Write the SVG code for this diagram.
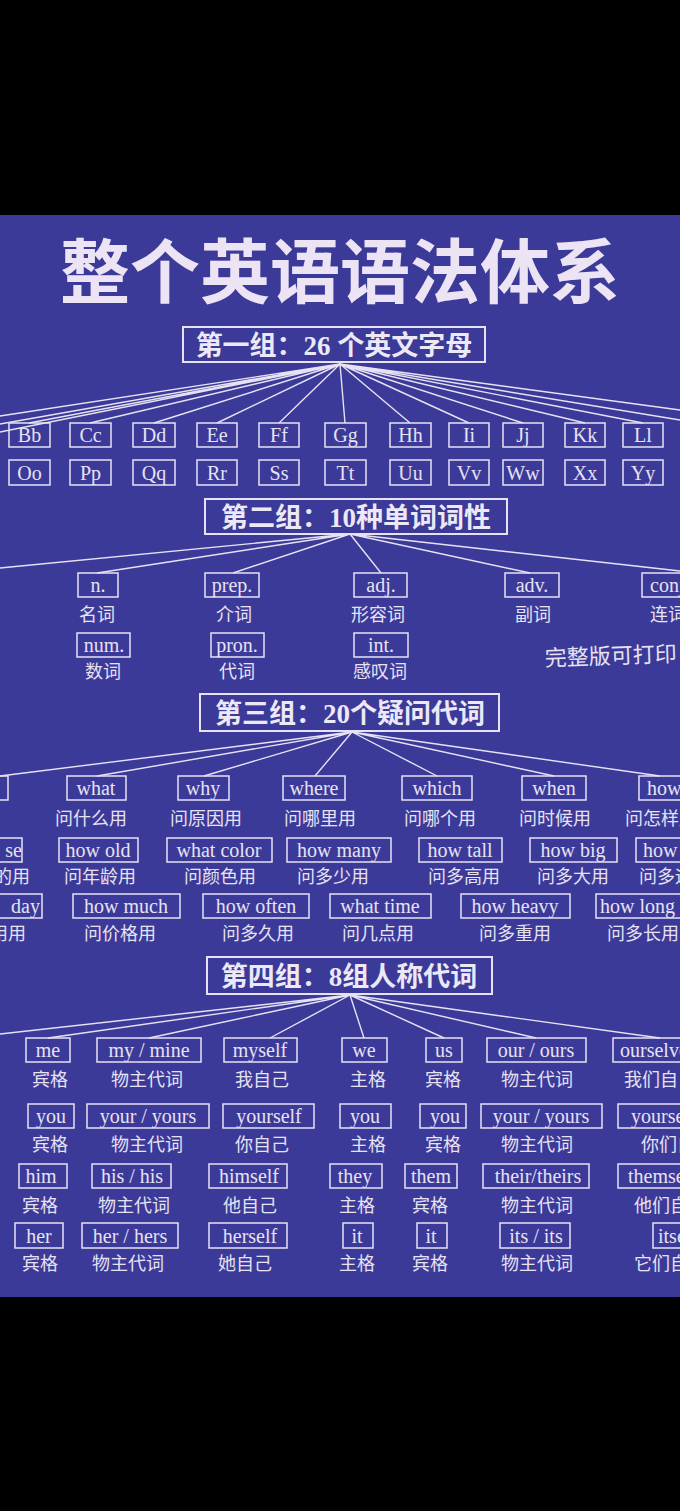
<svg xmlns="http://www.w3.org/2000/svg" width="680" height="1511" viewBox="0 0 680 1511">
<style>
.bx{fill:none;stroke:#e6e2f4;stroke-width:1.5}
.hb{fill:none;stroke:#e6e2f4;stroke-width:2}
.en{font-family:"Liberation Serif",serif;font-size:20px;fill:#e6e2f4;text-anchor:middle}
.zh{font-family:"Noto Sans CJK SC",sans-serif;font-size:18px;fill:#e6e2f4;text-anchor:middle}
.hd{font-family:"Liberation Serif","Noto Sans CJK SC",serif;font-size:27px;font-weight:bold;fill:#ece8f6;text-anchor:middle}
.ln{stroke:#e6e2f4;stroke-width:1.4;fill:none}
</style>
<rect width="680" height="1511" fill="#000"/>
<rect x="0" y="215" width="680" height="1082" fill="#3c3a98"/>
<text x="340" y="298" font-family="Noto Sans CJK SC,sans-serif" font-size="70" font-weight="bold" fill="#ece4f4" text-anchor="middle">整个英语语法体系</text>

<g id="connectors">
<path class="ln" d="M340 364L0 416M340 364L0 424M340 364L0 432M340 364L29 423M340 364L90 423M340 364L154 423M340 364L217 423M340 364L279 423M340 364L345 423M340 364L410 423M340 364L469 423M340 364L523 423M340 364L585 423M340 364L643 423M340 364L680 420M340 364L680 410"/>
<path class="ln" d="M350 534L0 568M350 534L97 573M350 534L233 573M350 534L381 573M350 534L530 573M350 534L680 571"/>
<path class="ln" d="M352 732L0 776M352 732L97 776M352 732L204 776M352 732L315 776M352 732L437 776M352 732L554 776M352 732L660 776"/>
<path class="ln" d="M350 995L0 1034M350 995L48 1038M350 995L149 1038M350 995L270 1038M350 995L364 1038M350 995L444 1038M350 995L536 1038M350 995L660 1038"/>
</g>

<g id="g1">
<rect class="hb" x="183" y="327" width="302" height="35"/>
<text class="hd" x="334" y="355">第一组：26 个英文字母</text>
<g id="letters">
<rect class="bx" x="9" y="423" width="41" height="24"/><text class="en" x="29.5" y="442">Bb</text>
<rect class="bx" x="70" y="423" width="41" height="24"/><text class="en" x="90.5" y="442">Cc</text>
<rect class="bx" x="133" y="423" width="42" height="24"/><text class="en" x="154" y="442">Dd</text>
<rect class="bx" x="197" y="423" width="40" height="24"/><text class="en" x="217" y="442">Ee</text>
<rect class="bx" x="259" y="423" width="40" height="24"/><text class="en" x="279" y="442">Ff</text>
<rect class="bx" x="325" y="423" width="41" height="24"/><text class="en" x="345.5" y="442">Gg</text>
<rect class="bx" x="390" y="423" width="41" height="24"/><text class="en" x="410.5" y="442">Hh</text>
<rect class="bx" x="449" y="423" width="40" height="24"/><text class="en" x="469" y="442">Ii</text>
<rect class="bx" x="503" y="423" width="40" height="24"/><text class="en" x="523" y="442">Jj</text>
<rect class="bx" x="565" y="423" width="40" height="24"/><text class="en" x="585" y="442">Kk</text>
<rect class="bx" x="623" y="423" width="40" height="24"/><text class="en" x="643" y="442">Ll</text>
<rect class="bx" x="9" y="460" width="41" height="25"/><text class="en" x="29.5" y="480">Oo</text>
<rect class="bx" x="70" y="460" width="41" height="25"/><text class="en" x="90.5" y="480">Pp</text>
<rect class="bx" x="133" y="460" width="42" height="25"/><text class="en" x="154" y="480">Qq</text>
<rect class="bx" x="197" y="460" width="40" height="25"/><text class="en" x="217" y="480">Rr</text>
<rect class="bx" x="259" y="460" width="40" height="25"/><text class="en" x="279" y="480">Ss</text>
<rect class="bx" x="325" y="460" width="41" height="25"/><text class="en" x="345.5" y="480">Tt</text>
<rect class="bx" x="390" y="460" width="41" height="25"/><text class="en" x="410.5" y="480">Uu</text>
<rect class="bx" x="449" y="460" width="40" height="25"/><text class="en" x="469" y="480">Vv</text>
<rect class="bx" x="503" y="460" width="40" height="25"/><text class="en" x="523" y="480">Ww</text>
<rect class="bx" x="565" y="460" width="40" height="25"/><text class="en" x="585" y="480">Xx</text>
<rect class="bx" x="623" y="460" width="40" height="25"/><text class="en" x="643" y="480">Yy</text>
</g>
</g>

<g id="g2">
<rect class="hb" x="205" y="499" width="302" height="35"/>
<text class="hd" x="356" y="527">第二组：10种单词词性</text>
<rect class="bx" x="78" y="573" width="40" height="24"/><text class="en" x="98" y="592">n.</text>
<rect class="bx" x="205" y="573" width="54" height="24"/><text class="en" x="232" y="592">prep.</text>
<rect class="bx" x="354" y="573" width="53" height="24"/><text class="en" x="381" y="592">adj.</text>
<rect class="bx" x="505" y="573" width="54" height="24"/><text class="en" x="532" y="592">adv.</text>
<rect class="bx" x="642" y="573" width="50" height="24"/><text class="en" x="650" y="592" style="text-anchor:start">conj.</text>
<text class="zh" x="97" y="621">名词</text>
<text class="zh" x="234" y="621">介词</text>
<text class="zh" x="378" y="621">形容词</text>
<text class="zh" x="533" y="621">副词</text>
<text class="zh" x="650" y="621" style="text-anchor:start">连词</text>
<rect class="bx" x="77" y="633" width="53" height="24"/><text class="en" x="104" y="652">num.</text>
<rect class="bx" x="211" y="633" width="53" height="24"/><text class="en" x="237" y="652">pron.</text>
<rect class="bx" x="354" y="633" width="54" height="24"/><text class="en" x="381" y="652">int.</text>
<text class="zh" x="103" y="678">数词</text>
<text class="zh" x="237" y="678">代词</text>
<text class="zh" x="380" y="678">感叹词</text>
<text x="545" y="666" font-family="Noto Sans CJK SC,sans-serif" font-size="22" fill="#e6e2f4" transform="rotate(-2 545 666)">完整版可打印</text>
</g>

<g id="g3">
<rect class="hb" x="200" y="694" width="299" height="37"/>
<text class="hd" x="350" y="723">第三组：20个疑问代词</text>
<rect class="bx" x="-20" y="776" width="28" height="24"/>
<rect class="bx" x="67" y="776" width="59" height="24"/><text class="en" x="96" y="795">what</text>
<rect class="bx" x="178" y="776" width="51" height="24"/><text class="en" x="203" y="795">why</text>
<rect class="bx" x="283" y="776" width="62" height="24"/><text class="en" x="314" y="795">where</text>
<rect class="bx" x="402" y="776" width="70" height="24"/><text class="en" x="437" y="795">which</text>
<rect class="bx" x="522" y="776" width="64" height="24"/><text class="en" x="554" y="795">when</text>
<rect class="bx" x="639" y="776" width="60" height="24"/><text class="en" x="647" y="795" style="text-anchor:start">how</text>
<text class="zh" x="-9" y="825">用</text>
<text class="zh" x="91" y="825">问什么用</text>
<text class="zh" x="206" y="825">问原因用</text>
<text class="zh" x="320" y="825">问哪里用</text>
<text class="zh" x="440" y="825">问哪个用</text>
<text class="zh" x="555" y="825">问时候用</text>
<text class="zh" x="625" y="825" style="text-anchor:start">问怎样用</text>
<rect class="bx" x="-20" y="838" width="42" height="24"/><text class="en" x="22" y="857" style="text-anchor:end">se</text>
<rect class="bx" x="59" y="838" width="79" height="24"/><text class="en" x="98" y="857">how old</text>
<rect class="bx" x="167" y="838" width="105" height="24"/><text class="en" x="219" y="857">what color</text>
<rect class="bx" x="287" y="838" width="104" height="24"/><text class="en" x="339" y="857">how many</text>
<rect class="bx" x="419" y="838" width="83" height="24"/><text class="en" x="460" y="857">how tall</text>
<rect class="bx" x="530" y="838" width="87" height="24"/><text class="en" x="573" y="857">how big</text>
<rect class="bx" x="636" y="838" width="80" height="24"/><text class="en" x="643" y="857" style="text-anchor:start">how far</text>
<text class="zh" x="30" y="883" style="text-anchor:end">的用</text>
<text class="zh" x="100" y="883">问年龄用</text>
<text class="zh" x="220" y="883">问颜色用</text>
<text class="zh" x="333" y="883">问多少用</text>
<text class="zh" x="464" y="883">问多高用</text>
<text class="zh" x="573" y="883">问多大用</text>
<text class="zh" x="639" y="883" style="text-anchor:start">问多远用</text>
<rect class="bx" x="-20" y="894" width="62" height="24"/><text class="en" x="40" y="913" style="text-anchor:end">day</text>
<rect class="bx" x="73" y="894" width="107" height="24"/><text class="en" x="126" y="913">how much</text>
<rect class="bx" x="203" y="894" width="106" height="24"/><text class="en" x="256" y="913">how often</text>
<rect class="bx" x="330" y="894" width="101" height="24"/><text class="en" x="380" y="913">what time</text>
<rect class="bx" x="461" y="894" width="109" height="24"/><text class="en" x="515" y="913">how heavy</text>
<rect class="bx" x="596" y="894" width="100" height="24"/><text class="en" x="600" y="913" style="text-anchor:start">how long</text>
<text class="zh" x="26" y="940" style="text-anchor:end">用用</text>
<text class="zh" x="120" y="940">问价格用</text>
<text class="zh" x="258" y="940">问多久用</text>
<text class="zh" x="378" y="940">问几点用</text>
<text class="zh" x="515" y="940">问多重用</text>
<text class="zh" x="607" y="940" style="text-anchor:start">问多长用</text>
</g>

<g id="g4">
<rect class="hb" x="207" y="957" width="285" height="37"/>
<text class="hd" x="349" y="986">第四组：8组人称代词</text>
<rect class="bx" x="26" y="1038" width="44" height="24"/><text class="en" x="48" y="1057">me</text>
<rect class="bx" x="97" y="1038" width="104" height="24"/><text class="en" x="149" y="1057">my / mine</text>
<rect class="bx" x="224" y="1038" width="73" height="24"/><text class="en" x="260" y="1057">myself</text>
<rect class="bx" x="342" y="1038" width="45" height="24"/><text class="en" x="364" y="1057">we</text>
<rect class="bx" x="426" y="1038" width="36" height="24"/><text class="en" x="444" y="1057">us</text>
<rect class="bx" x="487" y="1038" width="99" height="24"/><text class="en" x="536" y="1057">our / ours</text>
<rect class="bx" x="613" y="1038" width="100" height="24"/><text class="en" x="620" y="1057" style="text-anchor:start">ourselves</text>
<text class="zh" x="50" y="1086">宾格</text><text class="zh" x="147" y="1086">物主代词</text><text class="zh" x="262" y="1086">我自己</text><text class="zh" x="368" y="1086">主格</text><text class="zh" x="443" y="1086">宾格</text><text class="zh" x="537" y="1086">物主代词</text><text class="zh" x="624" y="1086" style="text-anchor:start">我们自己</text>
<rect class="bx" x="28" y="1104" width="46" height="24"/><text class="en" x="51" y="1123">you</text>
<rect class="bx" x="87" y="1104" width="122" height="24"/><text class="en" x="148" y="1123">your / yours</text>
<rect class="bx" x="223" y="1104" width="91" height="24"/><text class="en" x="269" y="1123">yourself</text>
<rect class="bx" x="340" y="1104" width="51" height="24"/><text class="en" x="365" y="1123">you</text>
<rect class="bx" x="420" y="1104" width="46" height="24"/><text class="en" x="445" y="1123">you</text>
<rect class="bx" x="481" y="1104" width="121" height="24"/><text class="en" x="541" y="1123">your / yours</text>
<rect class="bx" x="618" y="1104" width="100" height="24"/><text class="en" x="631" y="1123" style="text-anchor:start">yourselves</text>
<text class="zh" x="50" y="1151">宾格</text><text class="zh" x="147" y="1151">物主代词</text><text class="zh" x="262" y="1151">你自己</text><text class="zh" x="368" y="1151">主格</text><text class="zh" x="443" y="1151">宾格</text><text class="zh" x="537" y="1151">物主代词</text><text class="zh" x="641" y="1151" style="text-anchor:start">你们自己</text>
<rect class="bx" x="19" y="1164" width="48" height="24"/><text class="en" x="41" y="1183">him</text>
<rect class="bx" x="92" y="1164" width="79" height="24"/><text class="en" x="132" y="1183">his / his</text>
<rect class="bx" x="209" y="1164" width="78" height="24"/><text class="en" x="249" y="1183">himself</text>
<rect class="bx" x="330" y="1164" width="52" height="24"/><text class="en" x="355" y="1183">they</text>
<rect class="bx" x="405" y="1164" width="52" height="24"/><text class="en" x="431" y="1183">them</text>
<rect class="bx" x="483" y="1164" width="106" height="24"/><text class="en" x="538" y="1183">their/theirs</text>
<rect class="bx" x="618" y="1164" width="100" height="24"/><text class="en" x="628" y="1183" style="text-anchor:start">themselves</text>
<text class="zh" x="40" y="1212">宾格</text><text class="zh" x="134" y="1212">物主代词</text><text class="zh" x="250" y="1212">他自己</text><text class="zh" x="357" y="1212">主格</text><text class="zh" x="430" y="1212">宾格</text><text class="zh" x="537" y="1212">物主代词</text><text class="zh" x="634" y="1212" style="text-anchor:start">他们自己</text>
<rect class="bx" x="15" y="1223" width="48" height="25"/><text class="en" x="39" y="1243">her</text>
<rect class="bx" x="82" y="1223" width="96" height="25"/><text class="en" x="130" y="1243">her / hers</text>
<rect class="bx" x="209" y="1223" width="78" height="25"/><text class="en" x="250" y="1243">herself</text>
<rect class="bx" x="343" y="1223" width="30" height="25"/><text class="en" x="357" y="1243">it</text>
<rect class="bx" x="417" y="1223" width="30" height="25"/><text class="en" x="431" y="1243">it</text>
<rect class="bx" x="500" y="1223" width="70" height="25"/><text class="en" x="536" y="1243">its / its</text>
<rect class="bx" x="653" y="1223" width="80" height="25"/><text class="en" x="658" y="1243" style="text-anchor:start">itself</text>
<text class="zh" x="40" y="1270">宾格</text><text class="zh" x="128" y="1270">物主代词</text><text class="zh" x="245" y="1270">她自己</text><text class="zh" x="357" y="1270">主格</text><text class="zh" x="430" y="1270">宾格</text><text class="zh" x="537" y="1270">物主代词</text><text class="zh" x="634" y="1270" style="text-anchor:start">它们自己</text>
</g>
</svg>
